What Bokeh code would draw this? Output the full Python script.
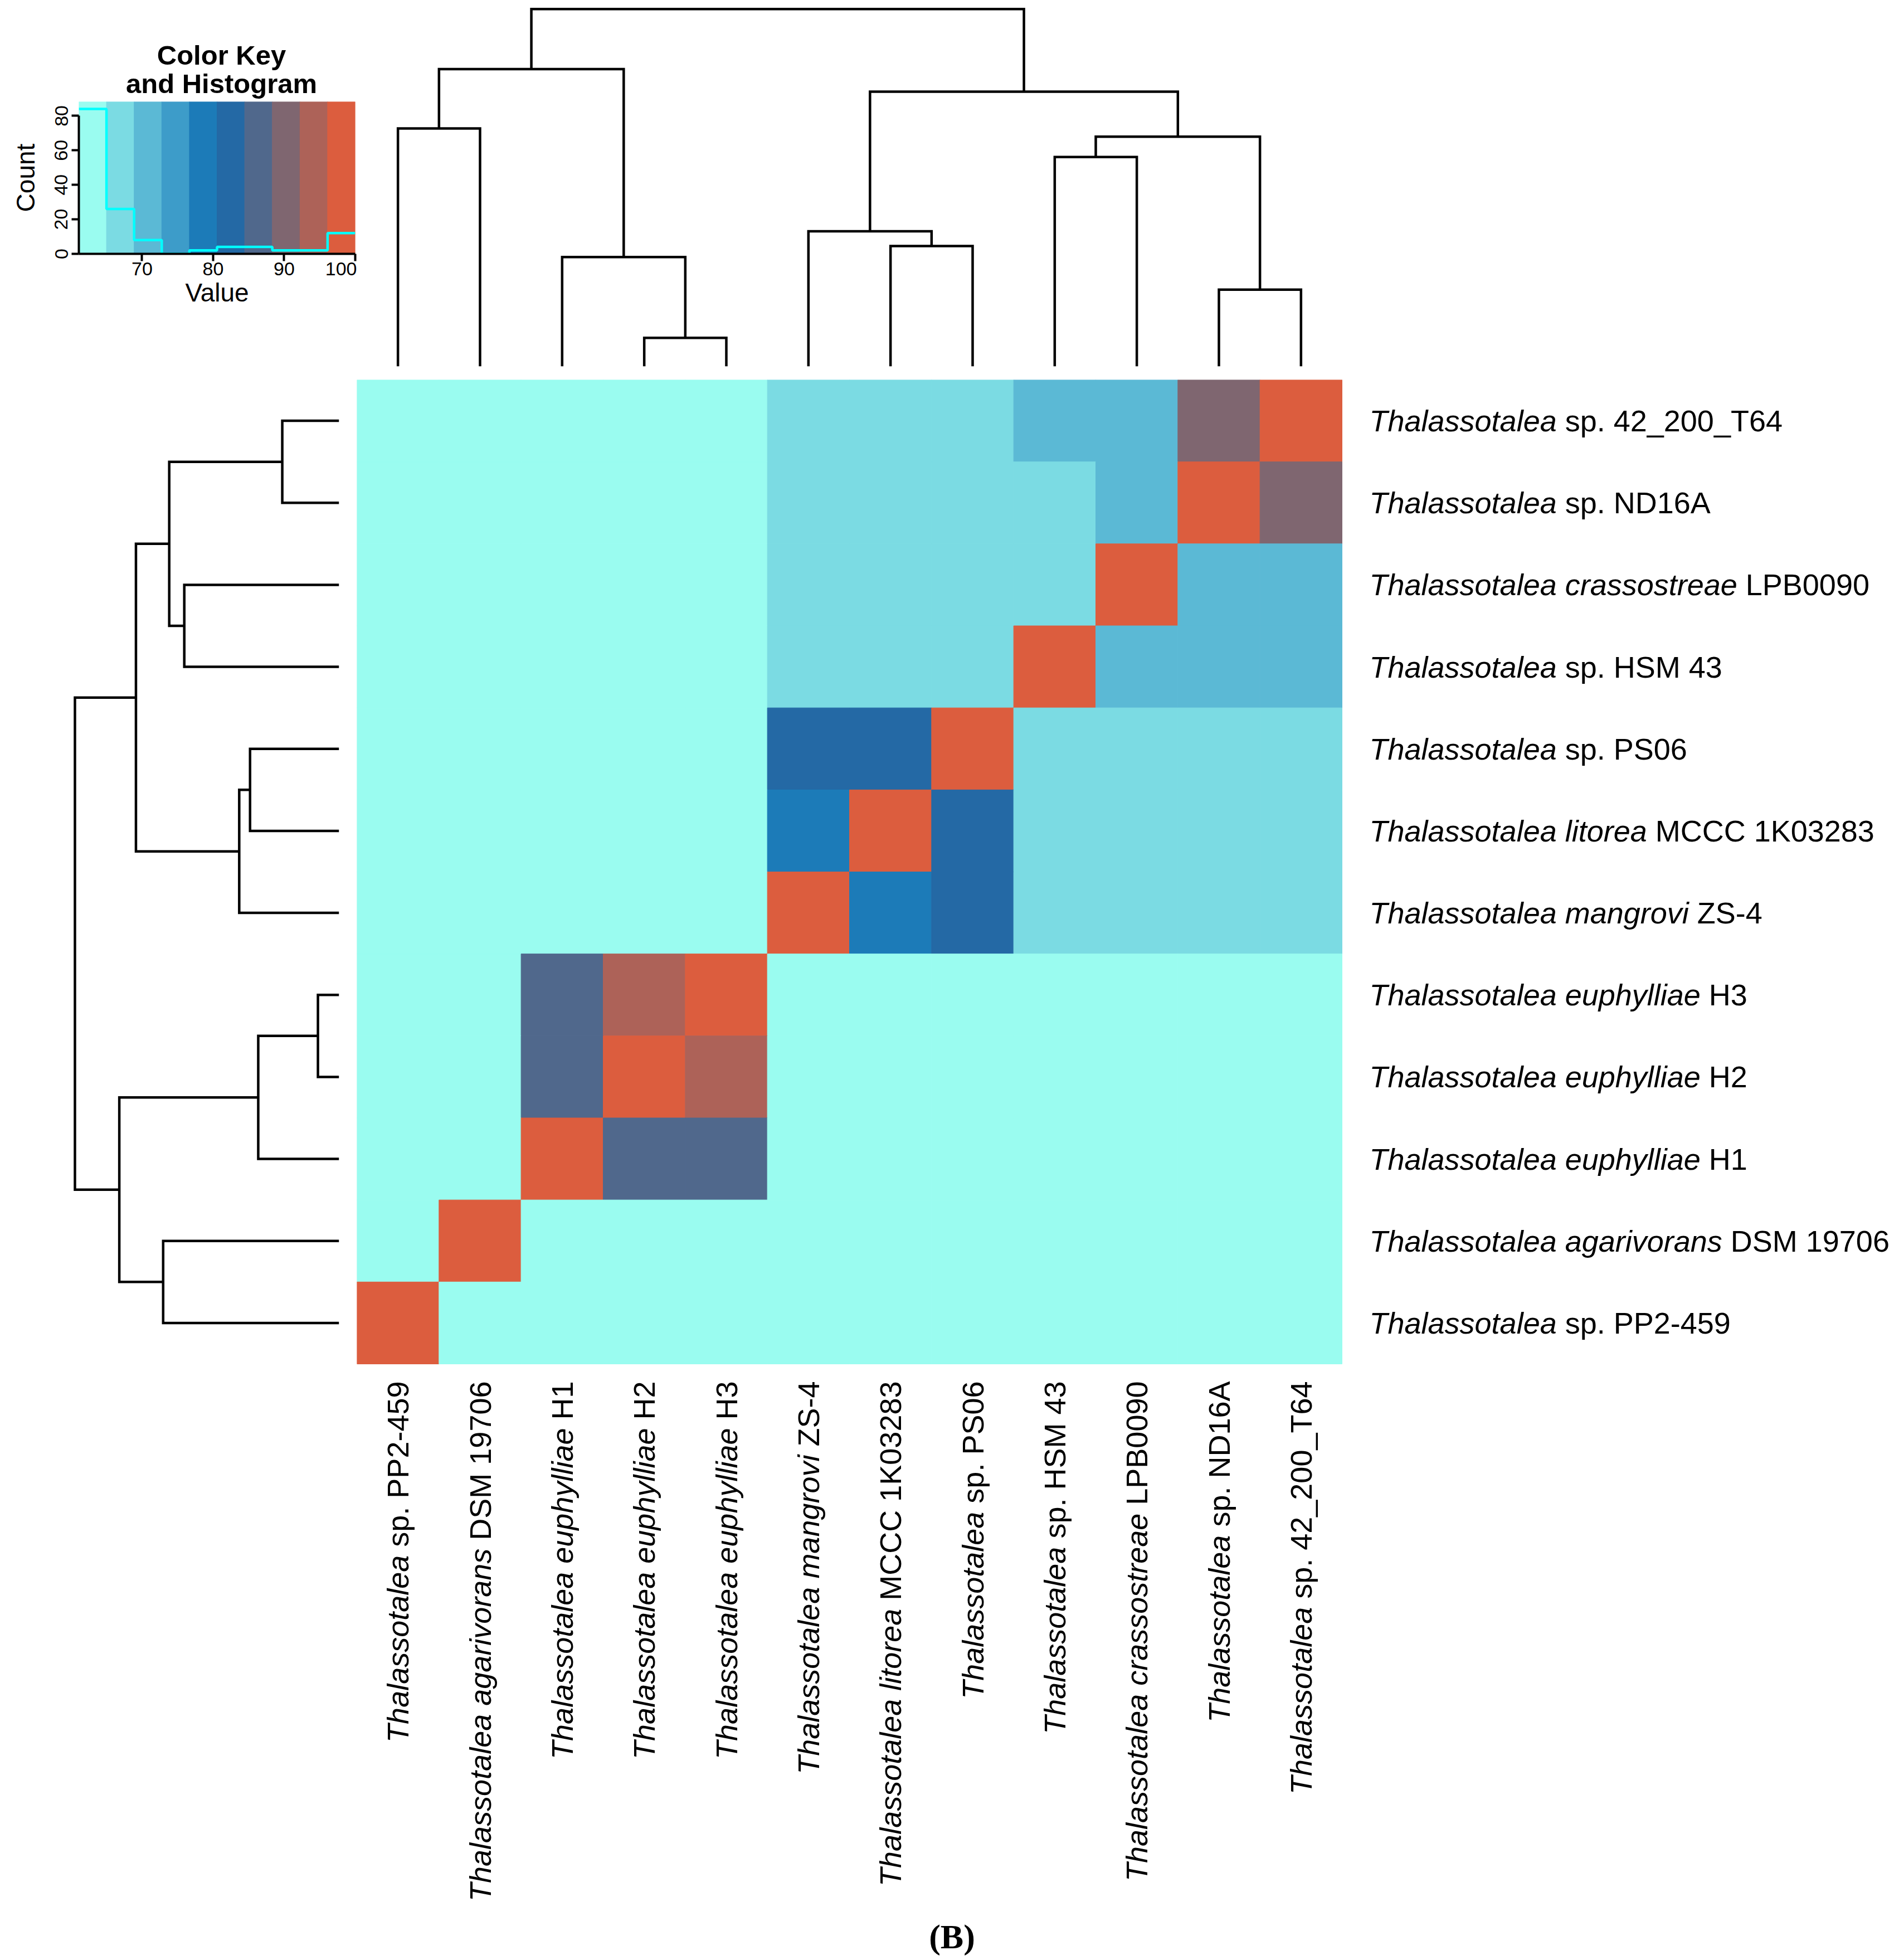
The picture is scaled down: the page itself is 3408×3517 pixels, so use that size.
import numpy as np
from bokeh.plotting import figure
from bokeh.models import Range1d, LinearColorMapper, FixedTicker, ColumnDataSource
from bokeh.layouts import row, column
from bokeh.embed import file_html
from bokeh.resources import INLINE
from bokeh.core.properties import value
from bokeh.transform import transform

# ------------------------------------------------------------------ data
# genomes in column order (left -> right); rows are the same genomes, top -> bottom reversed
col_italic = ["Thalassotalea", "Thalassotalea agarivorans", "Thalassotalea euphylliae",
              "Thalassotalea euphylliae", "Thalassotalea euphylliae", "Thalassotalea mangrovi",
              "Thalassotalea litorea", "Thalassotalea", "Thalassotalea",
              "Thalassotalea crassostreae", "Thalassotalea", "Thalassotalea"]
col_rest = ["sp. PP2-459", "DSM 19706", "H1", "H2", "H3", "ZS-4", "MCCC 1K03283",
            "sp. PS06", "sp. HSM 43", "LPB0090", "sp. ND16A", "sp. 42_200_T64"]
row_italic = col_italic[::-1]
row_rest = col_rest[::-1]

# pairwise identity (%), rows top -> bottom, columns left -> right
identity = [
    [62.3, 62.6, 62.1, 62.0, 62.2, 66.4, 66.6, 66.5, 70.2, 70.9, 89.9, 100.0],
    [62.4, 62.5, 62.0, 62.1, 62.3, 66.3, 66.5, 66.4, 68.5, 70.6, 100.0, 90.1],
    [62.5, 62.8, 62.2, 62.3, 62.4, 66.9, 67.0, 66.8, 68.2, 100.0, 70.5, 70.8],
    [62.7, 63.0, 62.4, 62.5, 62.6, 67.1, 67.3, 67.2, 100.0, 69.6, 69.2, 69.8],
    [62.0, 62.2, 61.6, 61.7, 61.8, 81.6, 81.9, 100.0, 66.9, 66.7, 66.2, 66.3],
    [62.1, 62.3, 61.7, 61.8, 61.9, 79.2, 100.0, 82.0, 67.1, 66.8, 66.3, 66.5],
    [61.9, 62.1, 61.5, 61.6, 61.7, 100.0, 79.0, 81.7, 67.0, 66.9, 66.2, 66.4],
    [63.8, 64.1, 86.9, 94.3, 100.0, 61.8, 61.9, 62.0, 62.4, 62.3, 62.1, 62.2],
    [63.9, 64.2, 86.7, 100.0, 94.1, 61.7, 61.8, 61.9, 62.3, 62.2, 62.0, 62.1],
    [63.7, 64.0, 100.0, 86.8, 86.6, 61.6, 61.7, 61.8, 62.2, 62.1, 61.9, 62.0],
    [63.5, 100.0, 64.2, 64.1, 64.0, 62.3, 62.4, 62.5, 62.9, 62.8, 62.6, 62.7],
    [100.0, 63.4, 63.9, 63.8, 63.7, 61.1, 61.3, 61.4, 62.8, 62.6, 62.4, 62.5],
]

# hierarchical clustering (leaf indices in column order; new nodes numbered 12, 13, ...)
merge_a = [3, 2, 0, 14, 6, 5, 10, 8, 19, 17, 15]
merge_b = [4, 12, 1, 13, 7, 16, 11, 9, 18, 20, 21]
merge_h = [0.080, 0.306, 0.666, 0.832, 0.337, 0.378, 0.215, 0.586, 0.643, 0.769, 1.000]

key_palette = ["#9AFCF0", "#7BDBE3", "#5BB9D5", "#3D9CC9", "#1C7BB8",
               "#2469A5", "#50688C", "#7F6670", "#AD6258", "#DC5D3E"]
key_xticks = [70, 80, 90, 100]
key_yticks = [0, 20, 40, 60, 80]

# ------------------------------------------------------------------ layout constants
FONT = "Liberation Sans"
LABEL_FS = 54
N = len(col_rest)
HM_W, HM_H = 1768, 1766
CW, CH = HM_W / N, HM_H / N
LINE_W = 4.5
LEFT_W = 640          # width of the left band (colour key / row dendrogram)
TOP_H = 681           # height of the top band (colour key / column dendrogram)
BOT_H = 2832          # height of the lower band (row dendrogram + heatmap + labels)
RIGHT_W = 2768        # width of heatmap + labels panel

ARIAL = {" ": 278, ".": 278, "_": 556, "-": 333,
         "A": 667, "B": 667, "C": 722, "D": 722, "H": 722, "K": 667, "L": 556, "M": 833,
         "N": 722, "P": 667, "S": 667, "T": 611, "Z": 611,
         "a": 556, "b": 556, "c": 500, "d": 556, "e": 556, "f": 278, "g": 556, "h": 556,
         "i": 222, "j": 222, "k": 500, "l": 222, "m": 833, "n": 556, "o": 556, "p": 556,
         "q": 556, "r": 333, "s": 500, "t": 278, "u": 556, "v": 500, "w": 722, "x": 500,
         "y": 500, "z": 500}
for d in "0123456789":
    ARIAL[d] = 556


def text_w(s, fs):
    return sum(ARIAL.get(c, 556) for c in s) * fs / 1000.0


def bare_fig(w, h, xr, yr):
    p = figure(width=w, height=h, x_range=xr, y_range=yr, output_backend="svg",
               toolbar_location=None, x_axis_location=None, y_axis_location=None)
    p.grid.grid_line_color = None
    p.outline_line_color = None
    p.min_border_left = p.min_border_right = p.min_border_top = p.min_border_bottom = 0
    return p


def dendro_paths(leaf_pos):
    pos = list(leaf_pos)
    hgt = [0.0] * len(leaf_pos)
    ps, hs = [], []
    for a, b, h in zip(merge_a, merge_b, merge_h):
        ps.append([pos[a], pos[a], pos[b], pos[b]])
        hs.append([hgt[a], h, h, hgt[b]])
        pos.append((pos[a] + pos[b]) / 2.0)
        hgt.append(h)
    return ps, hs


vals = np.array(identity, dtype=float)
vmin, vmax = float(vals.min()), float(vals.max())
edges = np.linspace(vmin, vmax, len(key_palette) + 1)
counts, _ = np.histogram(vals.ravel(), bins=edges)
ytop = counts.max() * 1.05
root_h = max(merge_h)

KEY_L, KEY_R = 141, 3      # left / right borders of the colour key column
T_H = 182

# ------------------------------------------------------------------ colour key title
T = bare_fig(LEFT_W, T_H, Range1d(KEY_L, LEFT_W - KEY_R), Range1d(T_H, 0))
T.min_border_left = KEY_L
T.min_border_right = KEY_R
T.text(x=[397, 397], y=[98, 149], text=["Color Key", "and Histogram"],
       text_font=value(FONT), text_font_style="bold", text_font_size="49px",
       text_align="center", text_baseline="middle", text_color="black")

# ------------------------------------------------------------------ colour key histogram
A = figure(width=LEFT_W, height=TOP_H - T_H, x_range=Range1d(vmin, vmax),
           y_range=Range1d(0, ytop), output_backend="svg", toolbar_location=None)
A.grid.grid_line_color = None
A.outline_line_color = None
A.min_border_left = KEY_L
A.min_border_right = KEY_R
A.min_border_top = 0
A.min_border_bottom = TOP_H - 455
A.quad(left=edges[:-1], right=edges[1:], bottom=0, top=ytop,
       fill_color=key_palette, line_color=key_palette)
A.step(x=edges, y=np.append(counts, counts[-1]), mode="after",
       line_color="#00FFFF", line_width=4.5)
for ax in (A.xaxis, A.yaxis):
    ax.axis_line_width = 4
    ax.axis_line_color = "black"
    ax.major_tick_line_width = 4
    ax.major_tick_out = 13
    ax.major_tick_in = 0
    ax.minor_tick_line_color = None
    ax.major_label_text_font = FONT
    ax.major_label_text_font_size = "34px"
    ax.major_label_text_color = "black"
    ax.axis_label_text_font = FONT
    ax.axis_label_text_font_size = "46px"
    ax.axis_label_text_font_style = "normal"
    ax.axis_label_text_color = "black"
A.xaxis.ticker = FixedTicker(ticks=key_xticks)
A.yaxis.ticker = FixedTicker(ticks=key_yticks)
A.yaxis.bounds = (min(key_yticks), max(key_yticks))
A.xaxis.axis_label = "Value"
A.yaxis.axis_label = "Count"
A.xaxis.major_label_standoff = 2
A.xaxis.axis_label_standoff = 2
A.yaxis.major_label_standoff = 7
A.yaxis.axis_label_standoff = 24
A.yaxis.major_label_orientation = "vertical"

# ------------------------------------------------------------------ column dendrogram
B = bare_fig(HM_W, TOP_H, Range1d(0, N), Range1d(0, root_h * 1.009))
B.min_border_top = 10
B.min_border_bottom = 24
cp, ch = dendro_paths([i + 0.5 for i in range(N)])
B.multi_line(xs=cp, ys=ch, line_color="black", line_width=LINE_W, line_join="miter")

# ------------------------------------------------------------------ row dendrogram
C = bare_fig(LEFT_W, BOT_H, Range1d(root_h * 1.0084, 0), Range1d(BOT_H / CH, 0))
C.min_border_left = 130
C.min_border_right = 32
rp, rh = dendro_paths([N - 1 - i + 0.5 for i in range(N)])
C.multi_line(xs=rh, ys=rp, line_color="black", line_width=LINE_W, line_join="miter")

# ------------------------------------------------------------------ heatmap + labels
D = bare_fig(RIGHT_W, BOT_H, Range1d(0, RIGHT_W / CW), Range1d(BOT_H / CH, 0))
mapper = LinearColorMapper(palette=key_palette, low=vmin, high=vmax)
hx, hy, hv = [], [], []
for i in range(N):
    for j in range(N):
        hx.append(j + 0.5)
        hy.append(i + 0.5)
        hv.append(identity[i][j])
src = ColumnDataSource(dict(x=hx, y=hy, v=hv))
D.rect(x="x", y="y", width=1, height=1, source=src,
       fill_color=transform("v", mapper), line_color=transform("v", mapper), line_width=1)

# row labels (right)
rx0 = N + 49 / CW
ry = [i + 0.5 for i in range(N)]
D.text(x=[rx0] * N, y=ry, text=row_italic, text_font=value(FONT), text_font_style="italic",
       text_font_size=f"{LABEL_FS}px", text_align="left", text_baseline="middle",
       text_color="black")
D.text(x=[rx0 + text_w(t + " ", LABEL_FS) / CW for t in row_italic], y=ry, text=row_rest,
       text_font=value(FONT), text_font_style="normal",
       text_font_size=f"{LABEL_FS}px", text_align="left", text_baseline="middle",
       text_color="black")

# column labels (bottom, rotated)
cy0 = N + 31 / CH
cx = [j + 0.5 for j in range(N)]
D.text(x=cx, y=[cy0] * N, text=col_rest, angle=np.pi / 2, text_font=value(FONT),
       text_font_style="normal", text_font_size=f"{LABEL_FS}px", text_align="right",
       text_baseline="middle", text_color="black")
D.text(x=cx, y=[cy0 + text_w(" " + t, LABEL_FS) / CH for t in col_rest], text=col_italic,
       angle=np.pi / 2, text_font=value(FONT), text_font_style="italic",
       text_font_size=f"{LABEL_FS}px", text_align="right", text_baseline="middle",
       text_color="black")

# panel tag
D.text(x=[(1708 - LEFT_W) / CW], y=[(3474 - TOP_H) / CH], text=["(B)"],
       text_font=value("Liberation Serif"), text_font_style="bold", text_font_size="62px",
       text_align="center", text_baseline="middle", text_color="black")

layout = column(row(column(T, A), B), row(C, D))

with open("out.html", "w") as f:
    f.write(file_html(layout, INLINE))
